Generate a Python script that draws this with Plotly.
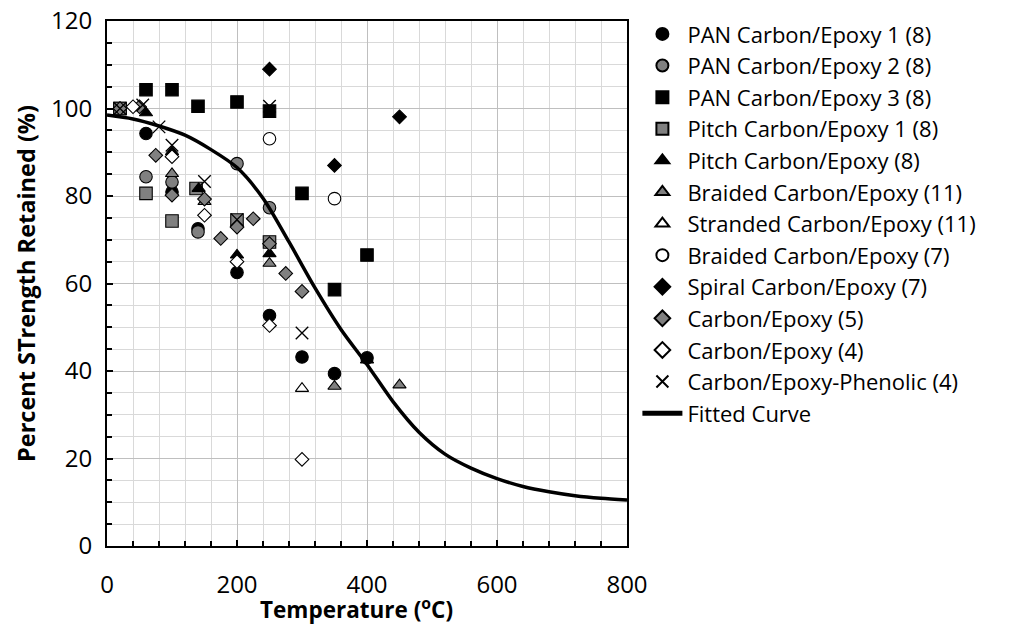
import plotly.graph_objects as go

# ---- data ----
pan1_x = [20, 60, 100, 140, 200, 250, 300, 350, 400]
pan1_y = [100, 94.3, 80.9, 72.5, 62.5, 52.7, 43.2, 39.4, 43.0]
pan2_x = [20, 60, 100, 140, 200, 250]
pan2_y = [100, 84.4, 83.2, 71.8, 87.4, 77.3]
pan3_x = [20, 60, 100, 140, 200, 250, 300, 350, 400]
pan3_y = [100, 104.3, 104.3, 100.5, 101.5, 99.4, 80.6, 58.6, 66.5]
pitch1_x = [20, 60, 100, 137, 200, 250]
pitch1_y = [100, 80.6, 74.3, 81.7, 74.5, 69.5]
pitch_x = [60, 100, 141, 200, 250, 400]
pitch_y = [99.0, 90.1, 81.7, 66.5, 66.8, 42.5]
braided11_x = [100, 150, 250, 350, 450]
braided11_y = [85.1, 78.7, 64.6, 36.5, 36.8]
stranded_x = [300]
stranded_y = [36.0]
braided7_x = [250, 350]
braided7_y = [93.1, 79.4]
spiral_x = [250, 350, 450]
spiral_y = [109.0, 87.0, 98.1]
ce5_x = [20, 50, 75, 100, 150, 175, 200, 225, 250, 275, 300]
ce5_y = [100, 100.4, 89.3, 80.2, 79.3, 70.3, 72.9, 74.8, 69.1, 62.3, 58.2]
ce4_x = [40, 100, 150, 200, 250, 300]
ce4_y = [100.4, 89.0, 75.6, 65.0, 50.4, 19.8]
phen_x = [20, 55, 80, 100, 150, 200, 250, 300]
phen_y = [100, 100.8, 95.8, 91.6, 83.3, 74.6, 100.5, 48.7]
fit_x = [0, 40, 80, 120, 160, 200, 240, 280, 320, 360, 400, 440, 480, 520,
         560, 600, 640, 680, 720, 760, 800]
fit_y = [98.5, 97.6, 96.0, 93.9, 90.6, 86.5, 79.5, 69.5, 59.0, 49.5, 41.5,
         33.0, 26.0, 21.0, 17.8, 15.4, 13.6, 12.4, 11.5, 10.9, 10.5]

x_title = "<b>Temperature (<sup>o</sup>C)</b>"
y_title = "<b>Percent STrength Retained (%)</b>"

GRAY = "#808080"
BLACK = "#000000"
WHITE = "#ffffff"
SIZES = {"circle": 12.5, "square": 12.5, "triangle-up": 11.5, "diamond": 10.5}

series = [
    ("PAN Carbon/Epoxy 1 (8)", pan1_x, pan1_y, "circle", BLACK),
    ("PAN Carbon/Epoxy 2 (8)", pan2_x, pan2_y, "circle", GRAY),
    ("PAN Carbon/Epoxy 3 (8)", pan3_x, pan3_y, "square", BLACK),
    ("Pitch Carbon/Epoxy 1 (8)", pitch1_x, pitch1_y, "square", GRAY),
    ("Pitch Carbon/Epoxy (8)", pitch_x, pitch_y, "triangle-up", BLACK),
    ("Braided Carbon/Epoxy (11)", braided11_x, braided11_y, "triangle-up", GRAY),
    ("Stranded Carbon/Epoxy (11)", stranded_x, stranded_y, "triangle-up", WHITE),
    ("Braided Carbon/Epoxy (7)", braided7_x, braided7_y, "circle", WHITE),
    ("Spiral Carbon/Epoxy (7)", spiral_x, spiral_y, "diamond", BLACK),
    ("Carbon/Epoxy (5)", ce5_x, ce5_y, "diamond", GRAY),
    ("Carbon/Epoxy (4)", ce4_x, ce4_y, "diamond", WHITE),
]

fig = go.Figure()
for name, xs, ys, sym, col in series:
    fig.add_trace(go.Scatter(
        x=xs, y=ys, mode="markers", name=name,
        marker=dict(symbol=sym, color=col, size=SIZES[sym],
                    line=dict(color=BLACK, width=1.1)),
    ))
fig.add_trace(go.Scatter(
    x=phen_x, y=phen_y, mode="markers", name="Carbon/Epoxy-Phenolic (4)",
    marker=dict(symbol="x-thin-open", color=BLACK, size=12.5,
                line=dict(color=BLACK, width=1.4)),
))
fig.add_trace(go.Scatter(
    x=fit_x, y=fit_y, mode="lines", name="Fitted Curve",
    line=dict(color=BLACK, width=3.5, shape="spline", smoothing=0.8),
))

FONT = "Open Sans"
fig.update_layout(
    width=1012, height=626,
    margin=dict(l=107, r=385, t=21, b=80),
    paper_bgcolor="white", plot_bgcolor="white",
    font=dict(family=FONT, size=22, color="black"),
    legend=dict(x=1.02, y=1.015, xanchor="left", yanchor="top",
                font=dict(size=22, family=FONT, color="black"),
                itemsizing="constant", itemwidth=40, maxheight=600,
                tracegroupgap=0, bgcolor="rgba(0,0,0,0)"),
    showlegend=True,
    annotations=[dict(
        text=x_title, xref="paper", yref="paper",
        x=(357 - 107) / 520.5, y=-(627 - 546) / 525,
        xanchor="center", yanchor="bottom", showarrow=False,
        font=dict(size=22.5, family=FONT, color="black"),
    )],
)
fig.update_xaxes(
    range=[0, 800], dtick=200, tick0=0, automargin=False,
    showline=True, linecolor=BLACK, linewidth=2, mirror=True,
    ticks="inside", ticklen=6, tickcolor=BLACK, tickwidth=1.5,
    showgrid=True, gridcolor="#bfbfbf", gridwidth=1,
    minor=dict(dtick=40, showgrid=True, gridcolor="#d9d9d9", gridwidth=1,
               ticks="inside", ticklen=5, tickcolor=BLACK),
    zeroline=False, ticklabelstandoff=16,
    tickfont=dict(size=24, family=FONT, color="black"),
)
fig.update_yaxes(
    range=[0, 120], dtick=20, tick0=0, automargin=False,
    showline=True, linecolor=BLACK, linewidth=2, mirror=True,
    ticks="inside", ticklen=6, tickcolor=BLACK, tickwidth=1.5,
    showgrid=True, gridcolor="#bfbfbf", gridwidth=1,
    minor=dict(dtick=5, showgrid=True, gridcolor="#d9d9d9", gridwidth=1,
               ticks="inside", ticklen=5, tickcolor=BLACK),
    zeroline=False, ticklabelstandoff=8,
    tickfont=dict(size=24, family=FONT, color="black"),
    title=dict(text=y_title, standoff=9,
               font=dict(size=23.5, family=FONT, color="black")),
)

fig.write_html("out.html")
